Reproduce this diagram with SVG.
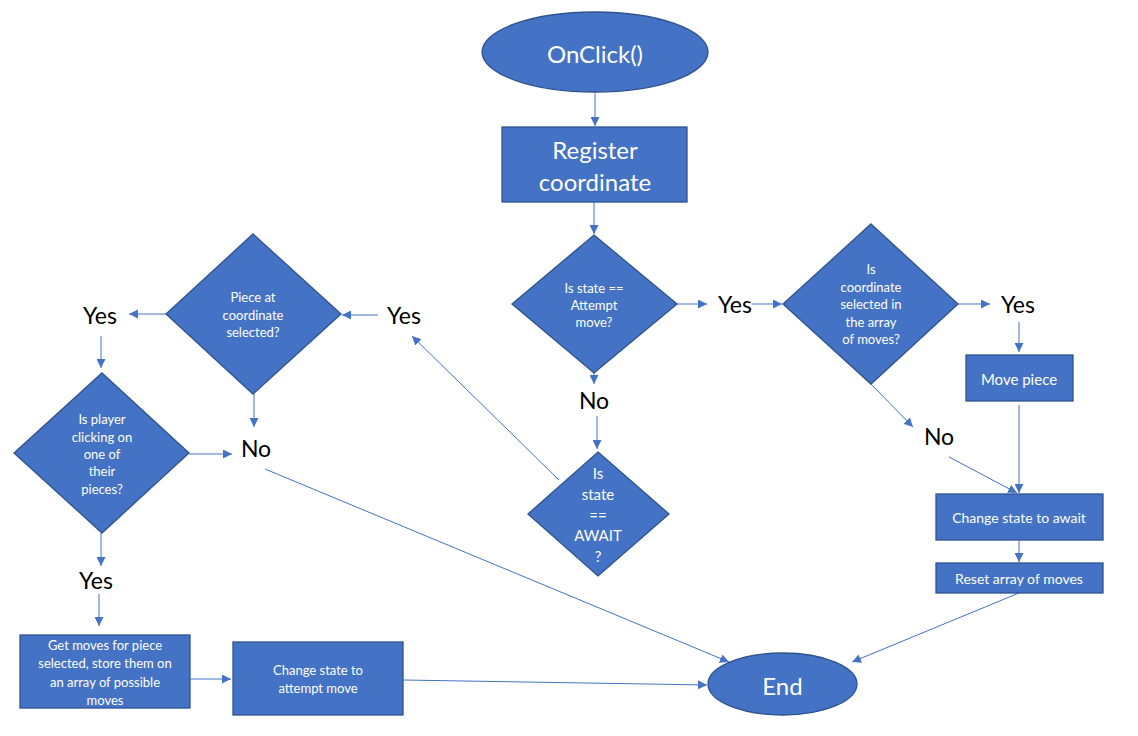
<svg xmlns="http://www.w3.org/2000/svg" width="1138" height="736" viewBox="0 0 1138 736">
<defs>
<marker id="ah" viewBox="0 0 10 10" refX="10" refY="5" markerWidth="9" markerHeight="9" markerUnits="userSpaceOnUse" orient="auto">
<path d="M0,0 L10,5 L0,10 Z" fill="#4472C4"/>
</marker>
<style>
.n{fill:#4472C4;stroke:#2F528F;stroke-width:1.3}
.t{fill:#fff;font-family:Lato,"Open Sans","Liberation Sans",sans-serif;text-anchor:middle;dominant-baseline:central}
.l{fill:#000;font-family:Lato,"Open Sans","Liberation Sans",sans-serif;font-size:23px;text-anchor:middle;dominant-baseline:central}
.c{stroke:#4472C4;stroke-width:1;fill:none;marker-end:url(#ah)}
</style>
</defs>
<rect width="1138" height="736" fill="#fff"/>
<g id="connectors">
<line class="c" x1="595" y1="93" x2="595" y2="126"/>
<line class="c" x1="594" y1="202" x2="594" y2="234"/>
<line class="c" x1="677" y1="304" x2="707" y2="304"/>
<line class="c" x1="752" y1="304" x2="782" y2="304"/>
<line class="c" x1="958" y1="304" x2="990" y2="304"/>
<line class="c" x1="1019" y1="322" x2="1019" y2="352"/>
<line class="c" x1="1019" y1="405" x2="1019" y2="493"/>
<line class="c" x1="870" y1="383" x2="913" y2="427"/>
<line class="c" x1="949" y1="457" x2="1017" y2="493"/>
<line class="c" x1="1019" y1="540" x2="1019" y2="562"/>
<line class="c" x1="1019" y1="593" x2="852" y2="662"/>
<line class="c" x1="594" y1="373" x2="594" y2="384"/>
<line class="c" x1="597" y1="416" x2="597" y2="449"/>
<line class="c" x1="559" y1="480" x2="412" y2="336"/>
<line class="c" x1="378" y1="315" x2="342" y2="315"/>
<line class="c" x1="166" y1="314" x2="129" y2="314"/>
<line class="c" x1="254" y1="394" x2="254" y2="427"/>
<line class="c" x1="101" y1="336" x2="101" y2="368"/>
<line class="c" x1="189" y1="454" x2="232" y2="454"/>
<line class="c" x1="265" y1="469" x2="729" y2="662"/>
<line class="c" x1="101" y1="533" x2="101" y2="566"/>
<line class="c" x1="99" y1="594" x2="99" y2="626"/>
<line class="c" x1="190" y1="679" x2="231" y2="679"/>
<line class="c" x1="403" y1="680" x2="707" y2="685"/>
</g>
<g id="labels">
<text class="l" x="735" y="304">Yes</text>
<text class="l" x="1018" y="304">Yes</text>
<text class="l" x="939" y="436">No</text>
<text class="l" x="594" y="400">No</text>
<text class="l" x="404" y="315">Yes</text>
<text class="l" x="100" y="315">Yes</text>
<text class="l" x="256" y="448">No</text>
<text class="l" x="96" y="580">Yes</text>
</g>
<g id="onclick">
<ellipse class="n" cx="595" cy="52" rx="113" ry="40"/>
<text class="t" x="595" y="53" font-size="24">OnClick()</text>
</g>
<g id="register">
<rect class="n" x="502" y="127" width="185" height="75"/>
<text class="t" x="595" y="149" font-size="24">Register</text>
<text class="t" x="595" y="181" font-size="24">coordinate</text>
</g>
<g id="d-attempt">
<polygon class="n" points="594,235 677,304 594,373 512,304"/>
<text class="t" x="594" y="288" font-size="13">Is state ==</text>
<text class="t" x="594" y="305" font-size="13">Attempt</text>
<text class="t" x="594" y="322" font-size="13">move?</text>
</g>
<g id="d-inarray">
<polygon class="n" points="871,224 958,304 871,384 783,304"/>
<text class="t" x="871" y="269" font-size="13">Is</text>
<text class="t" x="871" y="287" font-size="13">coordinate</text>
<text class="t" x="871" y="304" font-size="13">selected in</text>
<text class="t" x="871" y="322" font-size="13">the array</text>
<text class="t" x="871" y="339" font-size="13">of moves?</text>
</g>
<g id="movepiece">
<rect class="n" x="966" y="355" width="107" height="46"/>
<text class="t" x="1019" y="379" font-size="15">Move piece</text>
</g>
<g id="await">
<rect class="n" x="936" y="494" width="167" height="46"/>
<text class="t" x="1019" y="517" font-size="14">Change state to await</text>
</g>
<g id="reset">
<rect class="n" x="936" y="563" width="167" height="30"/>
<text class="t" x="1019" y="578" font-size="14">Reset array of moves</text>
</g>
<g id="d-await">
<polygon class="n" points="598,452 669,514 598,576 528,514"/>
<text class="t" x="598" y="473" font-size="15">Is</text>
<text class="t" x="598" y="494" font-size="15">state</text>
<text class="t" x="598" y="515" font-size="15">==</text>
<text class="t" x="598" y="535" font-size="15">AWAIT</text>
<text class="t" x="598" y="556" font-size="15">?</text>
</g>
<g id="d-piece">
<polygon class="n" points="253,234 341,314 253,394 166,314"/>
<text class="t" x="253" y="297" font-size="13">Piece at</text>
<text class="t" x="253" y="315" font-size="13">coordinate</text>
<text class="t" x="253" y="332" font-size="13">selected?</text>
</g>
<g id="d-player">
<polygon class="n" points="102,373 189,453 102,533 14,453"/>
<text class="t" x="102" y="419" font-size="13">Is player</text>
<text class="t" x="102" y="437" font-size="13">clicking on</text>
<text class="t" x="102" y="454" font-size="13">one of</text>
<text class="t" x="102" y="471" font-size="13">their</text>
<text class="t" x="102" y="489" font-size="13">pieces?</text>
</g>
<g id="getmoves">
<rect class="n" x="20" y="635" width="170" height="73"/>
<text class="t" x="105" y="645" font-size="13">Get moves for piece</text>
<text class="t" x="105" y="663" font-size="13">selected, store them on</text>
<text class="t" x="105" y="682" font-size="13">an array of possible</text>
<text class="t" x="105" y="700" font-size="13">moves</text>
</g>
<g id="attempt">
<rect class="n" x="233" y="642" width="170" height="73"/>
<text class="t" x="318" y="670" font-size="13">Change state to</text>
<text class="t" x="318" y="688" font-size="13">attempt move</text>
</g>
<g id="end">
<ellipse class="n" cx="782.5" cy="684" rx="74.5" ry="31"/>
<text class="t" x="782.5" y="685" font-size="24">End</text>
</g>
</svg>
